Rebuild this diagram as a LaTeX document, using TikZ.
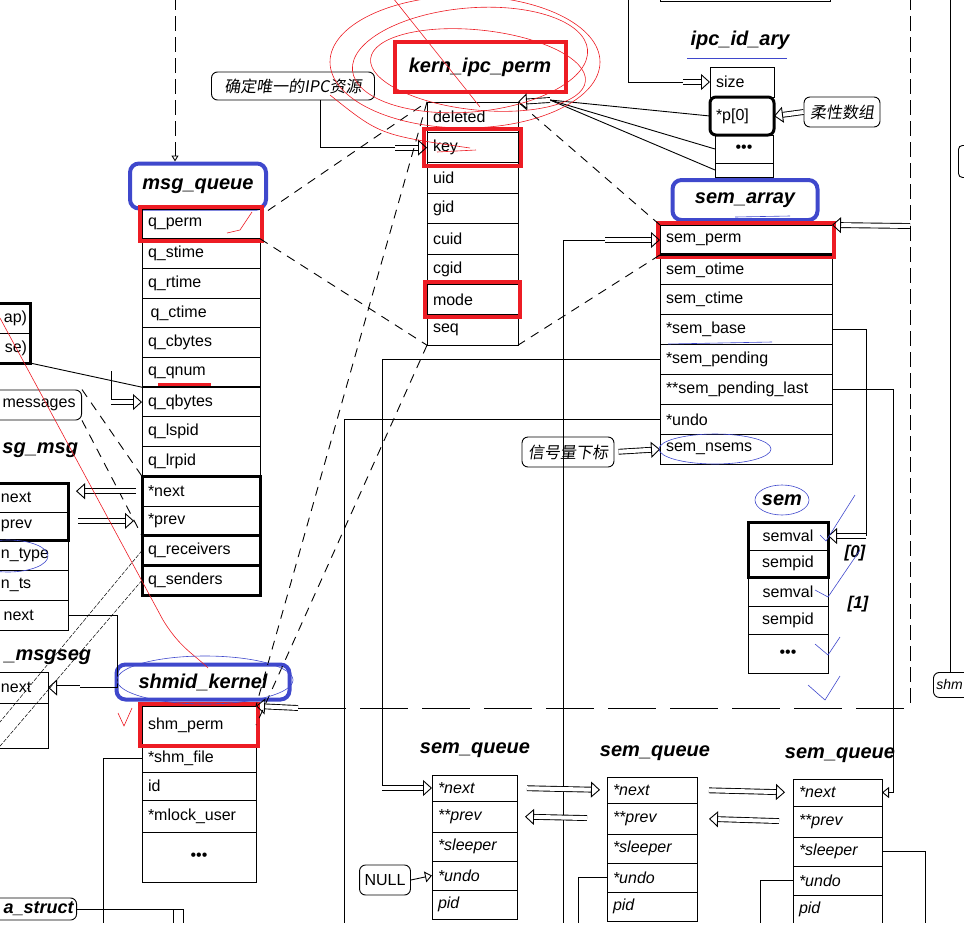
\documentclass[tikz,border=0pt]{standalone}
\usepackage{fontspec}
\setmainfont{Liberation Sans}
\newfontfamily\cjk[FakeSlant=0.15]{Noto Sans CJK SC}
\usetikzlibrary{arrows.meta, positioning, fit}
\definecolor{penred}{RGB}{237,28,36}
\definecolor{penblue}{RGB}{63,72,204}

\begin{document}
\begin{tikzpicture}[x=1pt, y=-1pt, line width=0.9pt,
    field/.style={draw, rectangle, anchor=north west, outer sep=0pt, inner xsep=6pt, inner ysep=0pt,
        align=left, font=\fontsize{16}{18}\selectfont},
    mqrow/.style={field, text width=106pt, minimum height=29.7pt},
    kprow/.style={field, text width=79pt, minimum height=30.4pt},
    idrow/.style={field, text width=52pt, minimum height=30pt},
    sarow/.style={field, text width=160pt, minimum height=29.9pt},
    smrow/.style={field, text width=68pt, minimum height=28pt, align=center},
    shrow/.style={field, text width=102pt, minimum height=28pt},
    sqrow/.style={field, text width=#1, minimum height=29pt, font=\fontsize{16}{18}\selectfont\itshape},
    lrow/.style={field, anchor=north east, inner xsep=5pt},
    title/.style={font=\fontsize{20}{22}\selectfont\bfseries\itshape, inner sep=1pt},
    bluetitle/.style={title, draw=penblue, line width=4pt, rounded corners=9pt},
    redtitle/.style={title, draw=penred, line width=4pt},
    hilite/.style={draw=penred, line width=4pt, inner sep=2pt},
    heavy/.style={draw, line width=3pt, inner sep=0pt},
    note/.style={draw, rounded corners=6pt, inner xsep=6pt, font=\cjk\fontsize{16}{18}\selectfont},
    tag/.style={draw, rounded corners=6pt, inner xsep=5pt, font=\fontsize{16}{18}\selectfont},
    dashlink/.style={dash pattern=on 9pt off 7pt},
    longdash/.style={dash pattern=on 15pt off 6pt},
    thinlink/.style={line width=0.5pt, dash pattern=on 4pt off 1.5pt},
    blk/.style={double, double distance=4pt, -{Triangle[open, length=9pt, width=16pt]}},
    hollow/.style={-{Triangle[open, length=7pt, width=11pt]}},
    pen/.style={line width=0.6pt, draw=#1},
]
    \useasboundingbox (0,0) rectangle (964,948);
    \clip (0,0) rectangle (964,922);

    % Nodes
    % kern_ipc_perm
    \node[redtitle, minimum width=171pt, minimum height=50pt] (kpt) at (480,67) {kern\_ipc\_perm};
    \node[kprow] (kp1) at (427,102) {deleted};
    \node[kprow, below=0pt of kp1] (kp2) {key};
    \node[kprow, below=0pt of kp2] (kp3) {uid};
    \node[kprow, below=0pt of kp3] (kp4) {gid};
    \node[kprow, below=0pt of kp4] (kp5) {cuid};
    \node[kprow, below=0pt of kp5] (kp6) {cgid};
    \node[kprow, below=0pt of kp6] (kp7) {mode};
    \node[kprow, below=0pt of kp7] (kp8) {seq};
    \node[hilite, fit=(kp2), inner sep=3pt] (kphl2) {};
    \node[hilite, fit=(kp7), inner sep=2pt] (kphl7) {};
    \node[note, minimum width=163pt, minimum height=28pt] (ipclbl) at (293,86) {确定唯一的IPC资源};

    % msg_queue
    \node[bluetitle, minimum width=136pt, minimum height=45pt] (mqt) at (198,186) {msg\_queue};
    \node[mqrow] (mq1) at (142,209) {q\_perm};
    \node[mqrow, below=0pt of mq1] (mq2) {q\_stime};
    \node[mqrow, below=0pt of mq2] (mq3) {q\_rtime};
    \node[mqrow, below=0pt of mq3] (mq4) {\,q\_ctime};
    \node[mqrow, below=0pt of mq4] (mq5) {q\_cbytes};
    \node[mqrow, below=0pt of mq5] (mq6) {q\_qnum};
    \node[mqrow, below=0pt of mq6] (mq7) {q\_qbytes};
    \node[mqrow, below=0pt of mq7] (mq8) {q\_lspid};
    \node[mqrow, below=0pt of mq8] (mq9) {q\_lrpid};
    \node[mqrow, below=0pt of mq9] (mq10) {*next};
    \node[mqrow, below=0pt of mq10] (mq11) {*prev};
    \node[mqrow, below=0pt of mq11] (mq12) {q\_receivers};
    \node[mqrow, below=0pt of mq12] (mq13) {q\_senders};
    \node[hilite, fit=(mq1)] (mqhl) {};
    \node[heavy, fit=(mq10)(mq11)] (mqnp) {};
    \node[heavy, fit=(mq12)] (mqrc) {};
    \node[heavy, fit=(mq13)] (mqsd) {};

    % ipc_id_ary
    \node[title] (idt) at (740,40) {ipc\_id\_ary};
    \node[idrow] (id1) at (710,67) {size};
    \node[idrow, below=0pt of id1, minimum height=38pt, line width=3pt, rounded corners=6pt] (id2) {*p[0]};
    \node[field, text width=46pt, minimum height=28pt, align=center] (id3) at (715,135) {\textbullet\textbullet\textbullet};
    \node[field, text width=46pt, minimum height=14pt, below=0pt of id3] (id4) {};
    \node[note, minimum height=30pt] (flex) at (842,112) {柔性数组};
    \node[draw, anchor=south west, minimum width=170pt, minimum height=30pt] (toprect) at (660,2) {};

    % sem_array
    \node[bluetitle, minimum width=145pt, minimum height=40pt] (sat) at (745,200) {sem\_array};
    \node[sarow] (sa1) at (660,225) {sem\_perm};
    \node[sarow, below=0pt of sa1] (sa2) {sem\_otime};
    \node[sarow, below=0pt of sa2] (sa3) {sem\_ctime};
    \node[sarow, below=0pt of sa3] (sa4) {*sem\_base};
    \node[sarow, below=0pt of sa4] (sa5) {*sem\_pending};
    \node[sarow, below=0pt of sa5] (sa6) {**sem\_pending\_last};
    \node[sarow, below=0pt of sa6] (sa7) {*undo};
    \node[sarow, below=0pt of sa7] (sa8) {sem\_nsems};
    \node[hilite, fit=(sa1)] (sahl) {};
    \node[note, minimum height=30pt] (idx) at (568,452) {信号量下标};

    % sem
    \node[title] (smt) at (782,500) {sem};
    \node[smrow] (sm1) at (748,522) {semval};
    \node[smrow, below=0pt of sm1, minimum height=27pt] (sm2) {sempid};
    \node[smrow, below=0pt of sm2, minimum height=29pt] (sm3) {semval};
    \node[smrow, below=0pt of sm3] (sm4) {sempid};
    \node[smrow, below=0pt of sm4, minimum height=39pt] (sm5) {\textbullet\textbullet\textbullet};
    \node[heavy, fit=(sm1)(sm2)] (smhv) {};
    \node[title, font=\fontsize{17}{19}\selectfont\bfseries\itshape] (ix0) at (855,553) {[0]};
    \node[title, font=\fontsize{17}{19}\selectfont\bfseries\itshape] (ix1) at (858,604) {[1]};

    % shmid_kernel
    \node[bluetitle, minimum width=173pt, minimum height=35pt] (sht) at (203,682) {shmid\_kernel};
    \node[shrow, minimum height=38pt] (sh1) at (142,706) {shm\_perm};
    \node[shrow, below=0pt of sh1] (sh2) {*shm\_file};
    \node[shrow, below=0pt of sh2] (sh3) {id};
    \node[shrow, below=0pt of sh3, minimum height=32pt] (sh4) {*mlock\_user};
    \node[shrow, below=0pt of sh4, minimum height=50pt, align=center] (sh5) {\textbullet\textbullet\textbullet};
    \node[hilite, fit=(sh1)] (shhl) {};

    % sem_queue
    \node[title] (sqat) at (475,750) {sem\_queue};
    \node[sqrow=73pt, minimum height=26pt] (sqa1) at (432,775) {*next};
    \node[sqrow=73pt, below=0pt of sqa1, minimum height=31pt] (sqa2) {**prev};
    \node[sqrow=73pt, below=0pt of sqa2] (sqa3) {*sleeper};
    \node[sqrow=73pt, below=0pt of sqa3] (sqa4) {*undo};
    \node[sqrow=73pt, below=0pt of sqa4] (sqa5) {pid};
    \node[tag, minimum height=30pt] (nullbox) at (385,880) {NULL};

    \node[title] (sqbt) at (655,753) {sem\_queue};
    \node[sqrow=78pt, minimum height=26pt] (sqb1) at (607,777) {*next};
    \node[sqrow=78pt, below=0pt of sqb1, minimum height=31pt] (sqb2) {**prev};
    \node[sqrow=78pt, below=0pt of sqb2] (sqb3) {*sleeper};
    \node[sqrow=78pt, below=0pt of sqb3] (sqb4) {*undo};
    \node[sqrow=78pt, below=0pt of sqb4] (sqb5) {pid};

    \node[title] (sqct) at (840,755) {sem\_queue};
    \node[sqrow=77pt, minimum height=27pt] (sqc1) at (793,779) {*next};
    \node[sqrow=77pt, below=0pt of sqc1, minimum height=31pt] (sqc2) {**prev};
    \node[sqrow=77pt, below=0pt of sqc2] (sqc3) {*sleeper};
    \node[sqrow=77pt, below=0pt of sqc3] (sqc4) {*undo};
    \node[sqrow=77pt, below=0pt of sqc4] (sqc5) {pid};

    % left edge, cut off
    \node[field, anchor=north east, text width=70pt, align=right, minimum height=30pt, inner xsep=3pt] (lb1) at (30,303) {ap)};
    \node[field, text width=70pt, align=right, minimum height=30pt, inner xsep=3pt, below=0pt of lb1] (lb2) {se)};
    \node[heavy, fit=(lb1)(lb2)] (lbhv) {};
    \node[tag, anchor=east, text width=100pt, align=right, minimum height=30pt, inner xsep=6pt] (msgs) at (82,405) {messages};
    \node[title, anchor=west] (mmt) at (1,450) {sg\_msg};
    \node[lrow, text width=62pt, minimum height=29pt] (mm1) at (68,483) {next};
    \node[lrow, text width=62pt, minimum height=28pt, below=0pt of mm1] (mm2) {prev};
    \node[lrow, text width=62pt, minimum height=30pt, below=0pt of mm2] (mm3) {n\_type};
    \node[lrow, text width=62pt, minimum height=30pt, below=0pt of mm3] (mm4) {n\_ts};
    \node[lrow, text width=62pt, minimum height=30pt, below=0pt of mm4] (mm5) {\,next};
    \node[heavy, fit=(mm1)(mm2)] (mmhv) {};
    \node[title, anchor=west] (mst) at (3,657) {\_msgseg};
    \node[lrow, text width=42pt, minimum height=31pt] (ms1) at (48,672) {next};
    \node[lrow, text width=42pt, minimum height=45pt, below=0pt of ms1] (ms2) {};
    \node[title, draw, rounded corners=6pt, anchor=east, text width=100pt, align=right, minimum height=22pt,
        inner xsep=3pt, font=\fontsize{18}{20}\selectfont\bfseries\itshape] (vmt) at (77,909) {a\_struct};

    % right edge, cut off
    \node[tag, anchor=north west, text width=40pt, align=left, minimum height=25pt, inner xsep=3pt, font=\fontsize{14}{16}\selectfont\itshape] (shmr) at (933,672) {shm};
    \node[draw, rounded corners=4pt, anchor=north west, minimum width=20pt, minimum height=32pt] (rbox) at (958,145) {};

    \coordinate (ctop) at (628,-5);
    \coordinate (hub) at (550,100);
    \coordinate (semdown) at (563,930);
    \coordinate (undodown) at (344,930);
    \coordinate (rtop) at (910,-5);
    \coordinate (rdash) at (910,226);
    \coordinate (rbot) at (910,708);
    \coordinate (shin) at (298,708);
    \coordinate (mqin) at (175,-5);
    \coordinate (qb) at (111,371);
    \coordinate (cr) at (-5,728);
    \coordinate (cs) at (-5,752);

    % Edges
    \draw[longdash, -{Triangle[open, length=6pt, width=7pt]}] (mqin) -- (mqt.north -| mqin);
    \draw ([xshift=27pt]ipclbl.south) |- ([xshift=-32pt]kp2.west);
    \draw[blk] ([xshift=-32pt]kp2.west) -- (kp2.west);
    \draw (ctop) |- ([xshift=-27pt]id1.west);
    \draw[blk] ([xshift=-27pt]id1.west) -- (id1.west);
    \draw (id2.west) -- (hub);
    \draw (id3.west) -- (hub);
    \draw (id4.west) -- (hub);
    \draw[blk] (hub) -- (kp1.north east);
    \draw[blk] (flex.west) -- (id2.east);

    \draw[dashlink] (mqt.south east) -- (kp1.north west);
    \draw[dashlink] (mq1.south east) -- (kp8.south west);
    \draw[dashlink] (sa1.north west) -- (kp1.north east);
    \draw[dashlink] (sa1.south west) -- (kp8.south east);
    \draw[dashlink] (kp1.north west) -- (sh1.north east);
    \draw[dashlink] (kp8.south west) -- (sh1.east);
    \draw[dashlink] (msgs.north east) -- (mq10.north west);
    \draw[dashlink] (msgs.south east) -- (mq11.south west);

    \draw (semdown) |- ([xshift=-55pt]sa1.west);
    \draw[blk] ([xshift=-55pt]sa1.west) -- (sa1.west);
    \draw[line width=3pt] (sa1.south west) -- (sa1.south east);
    \draw (sa5.west) -| ([xshift=-50pt]sqa1.west);
    \draw[blk] ([xshift=-50pt]sqa1.west) -- (sqa1.west);
    \draw (sa7.west) -| (undodown);
    \draw (sa4.east) -| ([xshift=38pt]sm1.east);
    \draw[blk] ([xshift=38pt]sm1.east) -- (sm1.east);
    \draw (sa6.east) -| ([xshift=11pt]sqc1.east);
    \draw[hollow] ([xshift=11pt]sqc1.east) -- (sqc1.east);
    \draw[blk] (rdash) -- (sa1.north east);
    \draw[blk, shorten <=4pt] (idx.east) -- (sa8.west);

    \draw[blk, shorten <=10pt, shorten >=7pt] (sqa1.east) -- (sqb1.west);
    \draw[blk, shorten <=20pt, shorten >=8pt] (sqb2.west) -- (sqa2.east);
    \draw[blk, shorten <=12pt, shorten >=8pt] (sqb1.east) -- (sqc1.west);
    \draw[blk, shorten <=14pt, shorten >=12pt] (sqc2.west) -- (sqb2.east);
    \draw[hollow] (nullbox.east) -- (sqa4.west);
    \draw (sqb4.west) -- ++(-29,0) -- ++(0,80);
    \draw (sqc4.west) -- ++(-33,0) -- ++(0,80);
    \draw (sqc3.east) -- ++(43,0) -- ++(0,80);
    \draw (sh2.west) -- ++(-39,0) -- ++(0,200);

    \draw[blk] (shin) -- (sh1.north east);
    \draw[dash pattern=on 48pt off 14pt] (shin) -- (rbot);
    \draw[longdash] (rtop) -- (rbot);
    \draw ([xshift=17pt]shmr.north west) -- ++(0,-700);

    \draw (mm5.east) -| ([xshift=69pt]ms1.east) -- ([xshift=32pt]ms1.east);
    \draw[blk] ([xshift=32pt]ms1.east) -- (ms1.east);
    \draw[blk, shorten <=6pt, shorten >=8pt] (mq10.west) -- (mq10.west -| mm1.east);
    \draw[blk, shorten <=10pt, shorten >=8pt] (mm2.east |- mq11.west) -- (mq11.west);
    \draw (lb2.south east) -- (mq6.south west);
    \draw[line width=2pt] (mq6.south west) -- (mq6.south east);
    \draw (qb) -- (qb |- mq7.west);
    \draw[blk] (qb |- mq7.west) -- (mq7.west);
    \draw[thinlink] (mq12.west) -- (cr);
    \draw[thinlink] (mq13.west) -- (cs);
    \draw (vmt.east) -- ++(106,0) -- ++(0,20);
    \draw ([xshift=96pt]vmt.east) -- ++(0,20);

    % pen marks
    \draw[pen=penred] (465,62) ellipse [x radius=135, y radius=66];
    \draw[pen=penred, rotate around={-6:(478,70)}] (478,70) ellipse [x radius=108, y radius=40];
    \draw[pen=penred, rotate around={5:(470,60)}] (470,60) ellipse [x radius=118, y radius=52];
    \draw[pen=penred] (393,-2) -- (480,107);
    \draw[pen=penred] (330,95) .. controls (380,135) .. (470,148);
    \draw[pen=penred] (437,152) -- (476,150);
    \draw[pen=penred] (0,318) -- (163,620) .. controls (180,648) and (195,655) .. (208,668);
    \draw[pen=penred] (227,233) -- (240,230) -- (252,212);
    \draw[pen=penred] (118,713) -- (124,726) -- (132,708);
    \draw[penred, line width=3pt] (158,384) -- (211,384);
    \draw[pen=penblue] (715,449) ellipse [x radius=56, y radius=15];
    \draw[pen=penblue] (782,500) ellipse [x radius=27, y radius=15];
    \draw[pen=penblue] (8,556) ellipse [x radius=40, y radius=16];
    \draw[pen=penblue] (205,680) ellipse [x radius=88, y radius=24];
    \draw[pen=penblue] (820,535) -- (826,541) -- (855,495);
    \draw[pen=penblue] (815,590) -- (828,597) -- (860,550);
    \draw[pen=penblue] (815,644) -- (828,655) -- (840,637);
    \draw[pen=penblue] (808,685) -- (825,700) -- (840,676);
    \draw[pen=penblue] (687,58) -- (787,58);
    \draw[pen=penblue] (668,344) -- (772,342);
    \draw[pen=penblue] (735,217) -- (790,216);
\end{tikzpicture}
\end{document}
